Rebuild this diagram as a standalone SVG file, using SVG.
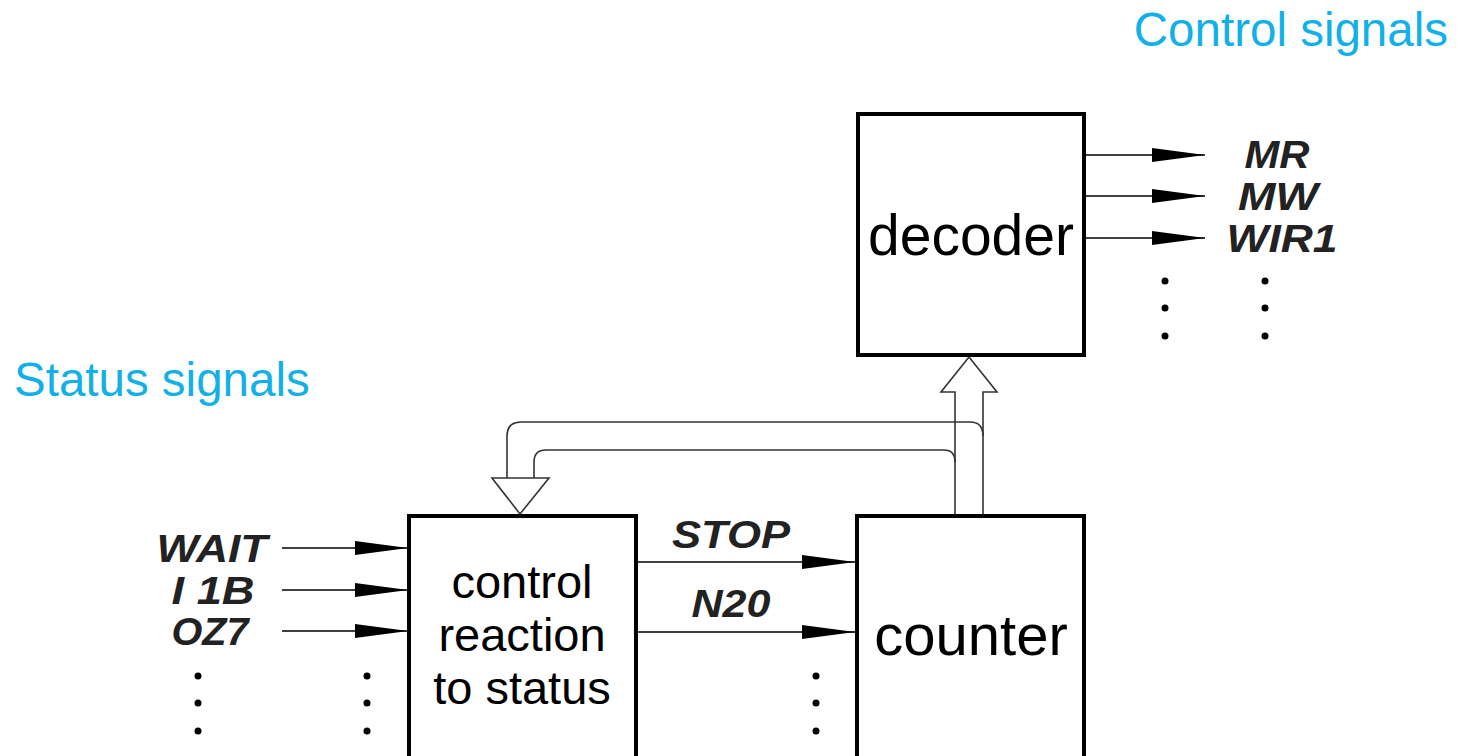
<svg xmlns="http://www.w3.org/2000/svg" width="1460" height="756" viewBox="0 0 1460 756">
<defs>
<marker id="ah" markerUnits="userSpaceOnUse" markerWidth="54" markerHeight="16" refX="53" refY="8" orient="auto">
<path d="M0,1 L53,8 L0,15 Z" fill="#000"/>
</marker>
<style>
.box{fill:#fff;stroke:#000;stroke-width:4}
.ln{stroke:#000;stroke-width:1.6;fill:none}
.hol{stroke:#333;stroke-width:1.6;fill:#fff}
.hl{stroke:#333;stroke-width:1.6;fill:none}
.sig{font-family:"Liberation Sans",Arial,sans-serif;font-weight:bold;font-style:italic;font-size:38px;fill:#222;text-anchor:middle}
.nm{font-family:"Liberation Sans",Arial,sans-serif;fill:#000;text-anchor:middle}
.cy{font-family:"Liberation Sans",Arial,sans-serif;font-size:47.5px;fill:#12b0e8}
.dot{fill:#000}
</style>
</defs>
<text class="cy" x="1448" y="46" text-anchor="end">Control signals</text>
<text class="cy" x="14" y="396">Status signals</text>

<g id="connectors">
<line class="ln" x1="1084" y1="155" x2="1205" y2="155" marker-end="url(#ah)"/>
<line class="ln" x1="1084" y1="196" x2="1205" y2="196" marker-end="url(#ah)"/>
<line class="ln" x1="1084" y1="238" x2="1205" y2="238" marker-end="url(#ah)"/>
<line class="ln" x1="282" y1="548" x2="408" y2="548" marker-end="url(#ah)"/>
<line class="ln" x1="282" y1="590" x2="408" y2="590" marker-end="url(#ah)"/>
<line class="ln" x1="282" y1="631" x2="408" y2="631" marker-end="url(#ah)"/>
<line class="ln" x1="636" y1="562" x2="855" y2="562" marker-end="url(#ah)"/>
<line class="ln" x1="636" y1="632" x2="855" y2="632" marker-end="url(#ah)"/>
<path class="hl" d="M507,478 L507,436 Q507,422 521,422 L970,422 Q983,422 983,436"/>
<path class="hl" d="M534,478 L534,462 Q534,450 546,450 L944,450 Q955,450 955,462"/>
<path class="hol" d="M492,478 L549,478 L520,514 Z"/>
<path class="hl" d="M955,516 L955,392 L941,392 L969,357 L997,392 L983,392 L983,516"/>
<g class="dot">
<circle cx="1165" cy="281" r="3.5"/><circle cx="1165" cy="308" r="3.5"/><circle cx="1165" cy="336" r="3.5"/>
<circle cx="1265" cy="281" r="3.5"/><circle cx="1265" cy="308" r="3.5"/><circle cx="1265" cy="336" r="3.5"/>
<circle cx="198" cy="676" r="3.5"/><circle cx="198" cy="703" r="3.5"/><circle cx="198" cy="731" r="3.5"/>
<circle cx="367" cy="676" r="3.5"/><circle cx="367" cy="703" r="3.5"/><circle cx="367" cy="731" r="3.5"/>
<circle cx="816" cy="676" r="3.5"/><circle cx="816" cy="703" r="3.5"/><circle cx="816" cy="731" r="3.5"/>
</g>
<text class="sig" x="1277" y="168" textLength="65" lengthAdjust="spacingAndGlyphs">MR</text>
<text class="sig" x="1278" y="210" textLength="80" lengthAdjust="spacingAndGlyphs">MW</text>
<text class="sig" x="1282" y="252" textLength="111" lengthAdjust="spacingAndGlyphs">WIR1</text>
<text class="sig" x="212" y="562" textLength="111" lengthAdjust="spacingAndGlyphs">WAIT</text>
<text class="sig" x="213" y="604" textLength="83" lengthAdjust="spacingAndGlyphs">I 1B</text>
<text class="sig" x="210" y="645" textLength="77" lengthAdjust="spacingAndGlyphs">OZ7</text>
<text class="sig" x="731" y="548" textLength="118" lengthAdjust="spacingAndGlyphs">STOP</text>
<text class="sig" x="731" y="617" textLength="79" lengthAdjust="spacingAndGlyphs">N20</text>
</g>

<g id="decoder">
<rect class="box" x="858" y="114" width="226" height="241"/>
<text class="nm" x="971" y="255" font-size="57">decoder</text>
</g>
<g id="counter">
<rect class="box" x="857" y="516" width="227" height="250"/>
<text class="nm" x="971" y="655" font-size="58">counter</text>
</g>
<g id="control">
<rect class="box" x="409" y="516" width="227" height="250"/>
<text class="nm" x="522" y="598" font-size="47">control</text>
<text class="nm" x="522" y="651" font-size="47">reaction</text>
<text class="nm" x="522" y="704" font-size="47">to status</text>
</g>
</svg>
